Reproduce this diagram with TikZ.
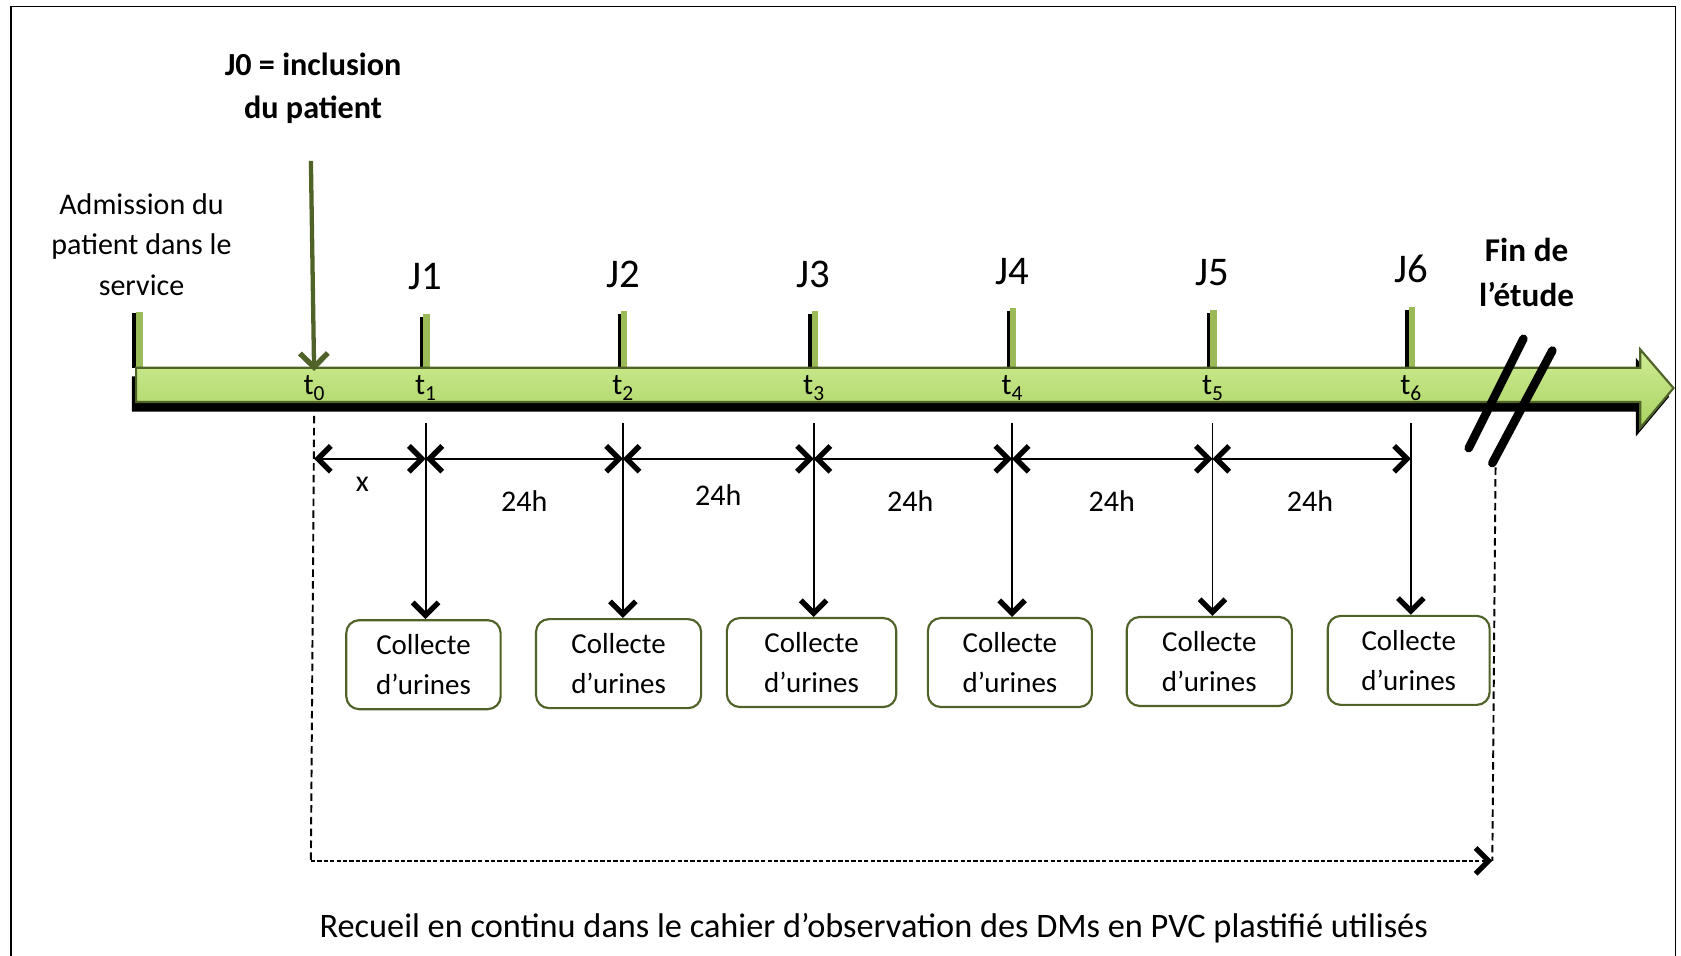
\documentclass[tikz,border=0pt]{standalone}
\usepackage{fontspec}
\setmainfont{Carlito}
\usetikzlibrary{arrows.meta}
\definecolor{olive}{HTML}{4F6228}
\definecolor{barlight}{HTML}{D0EC94}
\definecolor{bardark}{HTML}{A8D262}
\definecolor{tickgreen}{HTML}{9BBB59}
\newcommand{\tsub}[1]{\raisebox{-6pt}{\fontsize{20}{20}\selectfont #1}}
\tikzset{
  chevron/.tip={Straight Barb[length=12pt,width=24pt,line width=5pt]},
  daylabel/.style={font=\fontsize{38}{44}\selectfont},
  toplabel/.style={align=center, font=\fontsize{28}{38}\selectfont},
  boldlabel/.style={align=center, font=\bfseries\fontsize{30}{40}\selectfont},
  tlabel/.style={anchor=base, inner sep=0pt, font=\fontsize{28}{30}\selectfont},
  collecte/.style={draw=olive, line width=2pt, rounded corners=12pt, minimum height=83pt, inner sep=0pt, align=center, font=\fontsize{27}{37}\selectfont},
  dim/.style={line width=2pt, {chevron}-{chevron}},
  drop/.style={line width=1.8pt, -{chevron}},
  span/.style={font=\fontsize{28}{30}\selectfont}
}
\begin{document}
\begin{tikzpicture}[x=1pt,y=-1pt]
        \useasboundingbox (0,0) rectangle (1568,891);
        \draw[line width=1.5pt] (10,900) -- (10,6) -- (1563,6) -- (1563,900);
        \def \Days{ 1/397/293/258/395/620/144, 2/581/290/256/577/619/154, 3/759/290/256/757/618/158, 4/944/287/253/942/618/153, 5/1131/289/254/1128/617/154, 6/1316/286/251/1314/616/151}
        \def \Spans{ 0/1/x/338/452, 1/2/24h/489/467, 2/3/24h/670/462, 3/4/24h/849/467, 4/5/24h/1037/467, 5/6/24h/1222/467}
        % ticks above the bar
        \foreach \id / \x / \top / \ly / \bx / \by / \bw in \Days{
            \fill[black] (\x-5,343) rectangle (\x-1,\top+3);
            \fill[tickgreen] (\x-2,343) rectangle (\x+4,\top);
        }
        \fill[black] (123,343) rectangle (128,292);
        \fill[tickgreen] (127,343) rectangle (133,291);
        % time bar
        \fill[black] (123,351) -- (1526,351) -- (1526,334) -- (1557,370) -- (1526,407) -- (1526,384) -- (123,384) -- cycle;
        \draw[olive, line width=2pt, top color=barlight, bottom color=bardark] (127,343) -- (1530,343) -- (1530,326) -- (1561,362) -- (1530,399) -- (1530,375) -- (127,375) -- cycle;
        \node[toplabel] (admission) at (132,228) {Admission du\\patient dans le\\service};
        \node[boldlabel] (inclusion) at (292,82) {J0 = inclusion\\du patient};
        \node[boldlabel, font=\bfseries\fontsize{31}{42}\selectfont] (fin) at (1424,254) {Fin de\\l’étude};
        \node[tlabel] (t0) at (293,368) {t\tsub{0}};
        \coordinate (j0) at (290,150);
        \coordinate (a0) at (293,346);
        \draw[olive, line width=4pt, -{Straight Barb[length=13pt,width=26pt,line width=5pt]}] (j0) -- (a0);
        \foreach \id / \x / \top / \ly / \bx / \by / \bw in \Days{
            \node[daylabel] (J\id) at (\x,\ly) {J\id};
            \node[tlabel] (t\id) at (\x,368) {t\tsub{\id}};
            \node[collecte, minimum width=\bw] (c\id) at (\bx,\by) {Collecte\\d’urines};
            \coordinate (d\id) at (\x,395);
            \coordinate (s\id) at (\x,428);
            \draw[drop] (d\id) -- (d\id |- c\id.north);
        }
        \coordinate (s0) at (293,428);
        \foreach \a / \b / \txt / \lx / \ly in \Spans{
            \node[span] (l\b) at (\lx,\ly) {\txt};
            \draw[dim] ([xshift=\ifnum\a=0 0pt\else 8pt\fi]s\a) -- (s\b);
        }
        % break of the time line
        \draw[line width=8pt, line cap=round] (1421,316) -- (1370,418);
        \draw[line width=8pt, line cap=round] (1448,327) -- (1392,432);
        % continuous record
        \coordinate (e0) at (293,388);
        \coordinate (e1) at (290,803);
        \coordinate (e2) at (1392,803);
        \coordinate (e3) at (1395,436);
        \draw[dash pattern=on 7pt off 4pt, line width=1.8pt] (e0) -- (e1);
        \draw[dash pattern=on 7pt off 4pt, line width=1.8pt] (e3) -- (e2);
        \draw[dash pattern=on 4pt off 2pt, line width=2.2pt, -{chevron}] (e1) -- (e2);
        \node[font=\fontsize{32}{36}\selectfont] (recueil) at (815,866) {Recueil en continu dans le cahier d’observation des DMs en PVC plastifié utilisés};
\end{tikzpicture}
\end{document}
